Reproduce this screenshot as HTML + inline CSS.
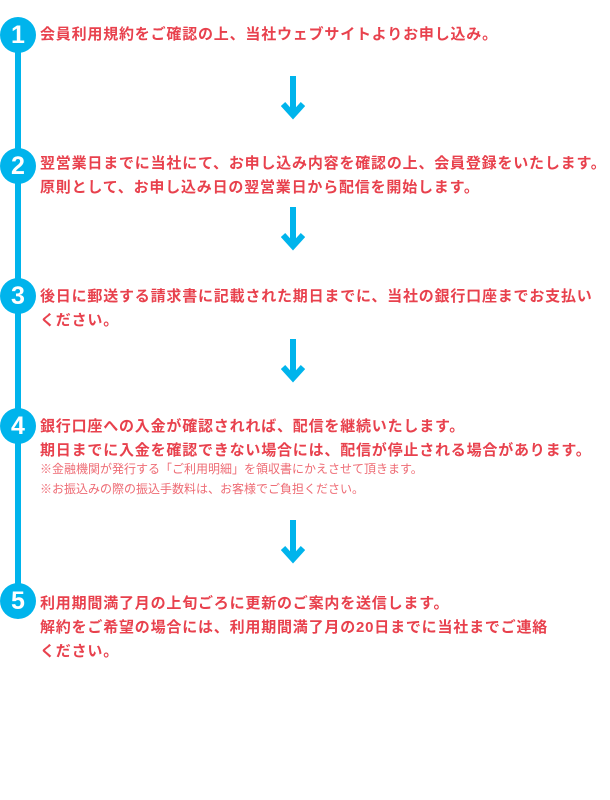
<!DOCTYPE html>
<html><head><meta charset="utf-8"><style>
body{margin:0;width:610px;height:800px;background:#fff;position:relative;overflow:hidden;font-family:"Liberation Sans","Noto Sans CJK JP",sans-serif}
.c{position:absolute;left:0px;width:36px;height:36px;border-radius:50%;background:#00b4ec;color:#fff;font-weight:bold;font-size:25px;text-align:center;line-height:36px}
.l{position:absolute;left:15px;top:35px;width:6px;height:566px;background:#00b4ec}
.t{position:absolute;left:40px;color:#e8414d;font-weight:bold;font-size:15px;line-height:24px;white-space:nowrap;letter-spacing:0.8px}
.s{position:absolute;left:40px;color:#ee6b74;font-size:12px;line-height:20px;white-space:nowrap}
svg{position:absolute;left:281px}
</style></head><body>
<div class="l"></div>
<div class="c" style="top:17px">1</div>
<div class="c" style="top:148px">2</div>
<div class="c" style="top:278px">3</div>
<div class="c" style="top:408px">4</div>
<div class="c" style="top:583px">5</div>
<div class="t" style="top:23px">会員利用規約をご確認の上、当社ウェブサイトよりお申し込み。</div>
<div class="t" style="top:152px">翌営業日までに当社にて、お申し込み内容を確認の上、会員登録をいたします。<br>原則として、お申し込み日の翌営業日から配信を開始します。</div>
<div class="t" style="top:285px">後日に郵送する請求書に記載された期日までに、当社の銀行口座までお支払い<br>ください。</div>
<div class="t" style="top:415px">銀行口座への入金が確認されれば、配信を継続いたします。<br>期日までに入金を確認できない場合には、配信が停止される場合があります。</div>
<div class="s" style="top:459px">※金融機関が発行する「ご利用明細」を領収書にかえさせて頂きます。<br>※お振込みの際の振込手数料は、お客様でご負担ください。</div>
<div class="t" style="top:592px">利用期間満了月の上旬ごろに更新のご案内を送信します。<br>解約をご希望の場合には、利用期間満了月の20日までに当社までご連絡<br>ください。</div>
<svg style="top:76px" width="24" height="46"><rect x="9" y="0" width="6" height="36" fill="#00b4ec"/><polyline points="2,28 12,39 22,28" fill="none" stroke="#00b4ec" stroke-width="6"/></svg>
<svg style="top:207px" width="24" height="46"><rect x="9" y="0" width="6" height="36" fill="#00b4ec"/><polyline points="2,28 12,39 22,28" fill="none" stroke="#00b4ec" stroke-width="6"/></svg>
<svg style="top:339px" width="24" height="46"><rect x="9" y="0" width="6" height="36" fill="#00b4ec"/><polyline points="2,28 12,39 22,28" fill="none" stroke="#00b4ec" stroke-width="6"/></svg>
<svg style="top:520px" width="24" height="46"><rect x="9" y="0" width="6" height="36" fill="#00b4ec"/><polyline points="2,28 12,39 22,28" fill="none" stroke="#00b4ec" stroke-width="6"/></svg>
</body></html>
